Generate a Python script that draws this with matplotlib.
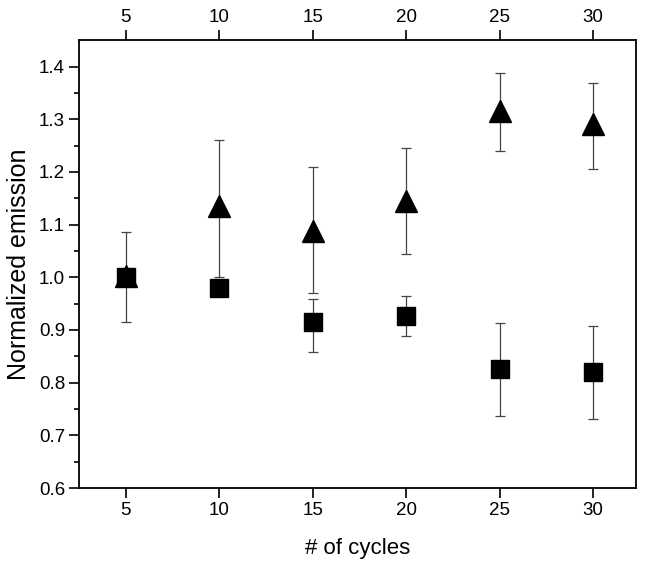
import matplotlib
matplotlib.use('Agg')
import matplotlib.pyplot as plt
import numpy as np

plt.rcParams['font.family'] = ['Liberation Sans', 'DejaVu Sans']

cycles = [5, 10, 15, 20, 25, 30]

# triangles
tri = [1.003, 1.135, 1.088, 1.145, 1.316, 1.291]
tri_hi = [1.085, 1.261, 1.209, 1.245, 1.387, 1.369]
tri_lo = [0.915, 1.001, 0.970, 1.045, 1.240, 1.206]

# squares
sq = [1.000, 0.980, 0.915, 0.927, 0.826, 0.820]
sq_hi = [1.000, 0.980, 0.958, 0.965, 0.914, 0.908]
sq_lo = [1.000, 0.980, 0.859, 0.889, 0.737, 0.731]

fig = plt.figure(figsize=(6.45, 5.66), dpi=100, facecolor='w')
ax = fig.add_axes([0.1225, 0.1378, 0.8635, 0.7912])

tri_err = [np.array(tri) - np.array(tri_lo), np.array(tri_hi) - np.array(tri)]
sq_err = [np.array(sq) - np.array(sq_lo), np.array(sq_hi) - np.array(sq)]

ax.errorbar(cycles, sq, yerr=sq_err, fmt='s', color='black', ms=12.5,
            ecolor='#444444', elinewidth=0.9, capsize=3.6, capthick=0.9, zorder=3)
ax.errorbar(cycles, tri, yerr=tri_err, fmt='^', color='black', ms=16,
            ecolor='#444444', elinewidth=0.9, capsize=3.6, capthick=0.9, zorder=4)

ax.set_xlim(2.5, 32.3)
ax.set_ylim(0.6, 1.45)
ax.set_xticks(cycles)
ax.set_yticks(np.arange(0.6, 1.41, 0.1))
ax.set_yticks(np.arange(0.65, 1.45, 0.1), minor=True)
ax.yaxis.set_major_formatter(matplotlib.ticker.FormatStrFormatter('%.1f'))

ax.tick_params(axis='x', which='major', direction='out', length=7, width=1.2,
               top=True, labeltop=True, labelsize=13.5, pad=3)
ax.tick_params(axis='y', which='major', direction='out', length=7, width=1.2,
               right=False, labelsize=13.5, pad=3)
ax.tick_params(axis='y', which='minor', direction='out', length=3.5, width=1.2, right=False)

for s in ax.spines.values():
    s.set_linewidth(1.3)

ax.set_xlabel('# of cycles', fontsize=16, labelpad=14)
ax.set_ylabel('Normalized emission', fontsize=18, labelpad=6)

fig.savefig('out.png', dpi=100)
